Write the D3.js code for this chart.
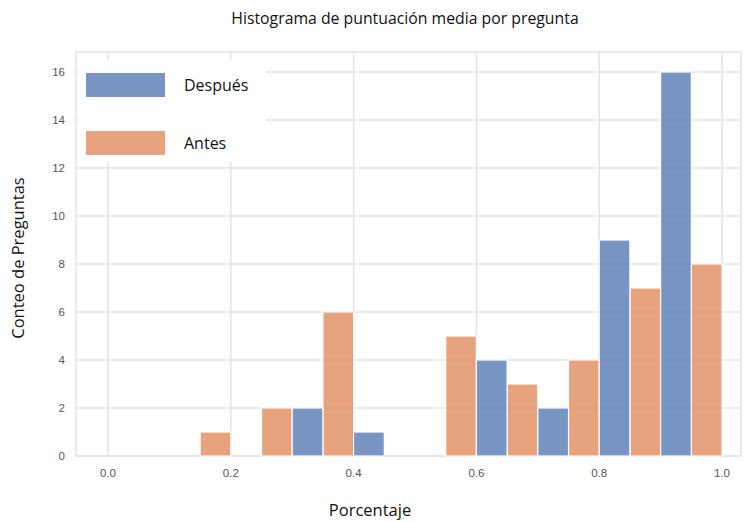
<!DOCTYPE html>
<html>
<head>
<meta charset="utf-8">
<script src="https://cdn.jsdelivr.net/npm/d3@7"></script>
<style>
  body { margin: 0; background: #fff; }
  svg { display: block; }
</style>
</head>
<body>
<div id="chart"></div>
<script>
// histogram bins (left edge) and counts
let binWidth = 0.05;
let antesBins = [0.15, 0.25, 0.35, 0.55, 0.65, 0.75, 0.85, 0.95];
let antesCounts = [1, 2, 6, 5, 3, 4, 7, 8];
let despuesBins = [0.30, 0.40, 0.60, 0.70, 0.80, 0.90];
let despuesCounts = [2, 1, 4, 2, 9, 16];
let xTicks = [0.0, 0.2, 0.4, 0.6, 0.8, 1.0];
let yTicks = [0, 2, 4, 6, 8, 10, 12, 14, 16];

let svgWidth = 745;
let svgHeight = 522;

let frame = { left: 76, right: 741, top: 52, bottom: 456 };

let svg = d3.select("#chart")
  .append("svg")
  .attr("width", svgWidth)
  .attr("height", svgHeight);

let x = d3.scaleLinear().domain([0, 1]).range([108, 722]);
let y = d3.scaleLinear().domain([0, 16]).range([456, 72]);

let gridColor = "#e3e3e3";

// frame
svg.append("rect")
  .attr("x", frame.left)
  .attr("y", frame.top)
  .attr("width", frame.right - frame.left)
  .attr("height", frame.bottom - frame.top)
  .attr("fill", "none")
  .attr("stroke", gridColor)
  .attr("stroke-width", 1.5);

// grid
svg.append("g").selectAll("line")
  .data(yTicks)
  .enter().append("line")
  .attr("x1", frame.left).attr("x2", frame.right)
  .attr("y1", d => y(d)).attr("y2", d => y(d))
  .attr("stroke", gridColor)
  .attr("stroke-width", 1.5);

svg.append("g").selectAll("line")
  .data(xTicks)
  .enter().append("line")
  .attr("x1", d => x(d)).attr("x2", d => x(d))
  .attr("y1", frame.top).attr("y2", frame.bottom)
  .attr("stroke", gridColor)
  .attr("stroke-width", 1.5);

// bars
function drawBars(bins, counts, color) {
  let data = bins.map((b, i) => ({ x0: b, count: counts[i] }));
  svg.append("g").selectAll("rect")
    .data(data)
    .enter().append("rect")
    .attr("x", d => x(d.x0))
    .attr("y", d => y(d.count))
    .attr("width", d => x(d.x0 + binWidth) - x(d.x0))
    .attr("height", d => y(0) - y(d.count))
    .attr("fill", color)
    .attr("fill-opacity", 0.75)
    .attr("stroke", "#fff")
    .attr("stroke-width", 1.2);
}
drawBars(antesBins, antesCounts, "#dd8452");
drawBars(despuesBins, despuesCounts, "#4c72b0");

// tick labels
svg.append("g").selectAll("text")
  .data(yTicks)
  .enter().append("text")
  .attr("x", 65)
  .attr("y", d => y(d))
  .attr("dy", "0.35em")
  .attr("text-anchor", "end")
  .attr("font-family", "Liberation Sans, Arial, sans-serif")
  .attr("font-size", "11.5px")
  .attr("fill", "#555")
  .text(d => d);

svg.append("g").selectAll("text")
  .data(xTicks)
  .enter().append("text")
  .attr("x", d => x(d))
  .attr("y", 477)
  .attr("text-anchor", "middle")
  .attr("font-family", "Liberation Sans, Arial, sans-serif")
  .attr("font-size", "11.5px")
  .attr("fill", "#555")
  .text(d => d.toFixed(1));

// legend
let legend = svg.append("g");
legend.append("rect")
  .attr("x", 78).attr("y", 60)
  .attr("width", 188).attr("height", 102)
  .attr("fill", "#fff");

let legendItems = [
  { label: "Después", color: "#4c72b0", y: 85 },
  { label: "Antes", color: "#dd8452", y: 143 }
];
legendItems.forEach(function(item) {
  legend.append("rect")
    .attr("x", 86).attr("y", item.y - 12)
    .attr("width", 79).attr("height", 24)
    .attr("fill", item.color)
    .attr("fill-opacity", 0.75);
  legend.append("text")
    .attr("x", 184).attr("y", item.y)
    .attr("dy", "0.35em")
    .attr("font-family", "Open Sans, sans-serif")
    .attr("font-size", "16px")
    .attr("fill", "#111")
    .text(item.label);
});

// titles
svg.append("text")
  .attr("x", 405).attr("y", 24)
  .attr("text-anchor", "middle")
  .attr("font-family", "Open Sans, sans-serif")
  .attr("font-size", "15.8px")
  .attr("fill", "#111")
  .text("Histograma de puntuación media por pregunta");

svg.append("text")
  .attr("transform", "rotate(-90)")
  .attr("x", -258).attr("y", 24)
  .attr("text-anchor", "middle")
  .attr("font-family", "Open Sans, sans-serif")
  .attr("font-size", "16.5px")
  .attr("fill", "#111")
  .text("Conteo de Preguntas");

svg.append("text")
  .attr("x", 370).attr("y", 516)
  .attr("text-anchor", "middle")
  .attr("font-family", "Open Sans, sans-serif")
  .attr("font-size", "16.5px")
  .attr("fill", "#111")
  .text("Porcentaje");
</script>
</body>
</html>
